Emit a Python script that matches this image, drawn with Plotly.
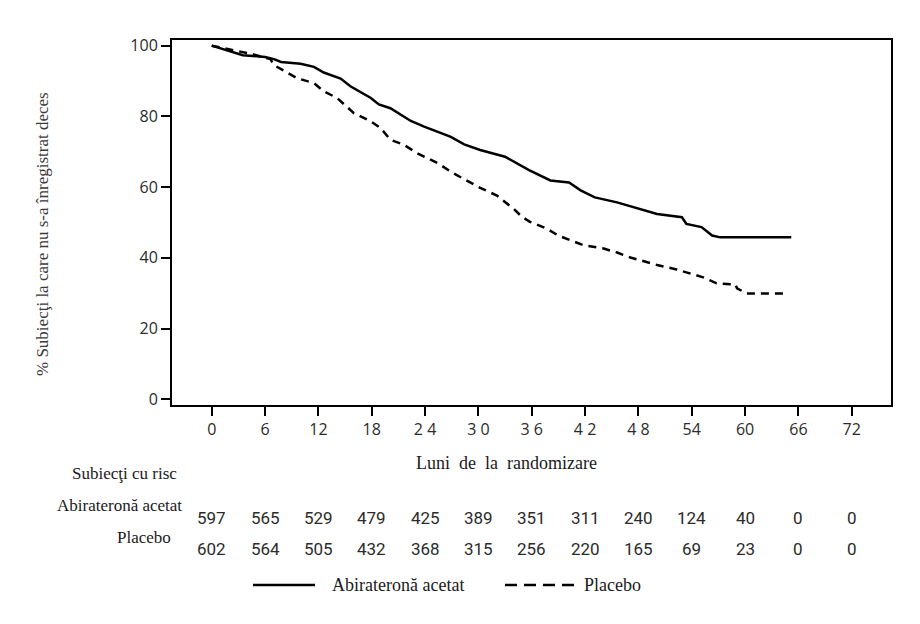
import plotly.graph_objects as go

# ---- data ----
abi_t = [0, 1.5, 3.5, 6, 7, 7.8, 10, 11.5, 12.6, 14.5, 15.6, 17.9, 18.8, 20.1, 22.4, 23.9,
         26.9, 28.4, 30.2, 33, 35.1, 35.7, 38.1, 40.2, 41.5, 43.1, 45.6, 47.4, 50.1, 52.9,
         53.4, 55.1, 56.3, 57.2, 65.2]
abi_v = [100, 98.8, 97.3, 96.8, 96.2, 95.4, 94.9, 94.0, 92.4, 90.7, 88.5, 85.2, 83.4, 82.3,
         78.7, 77.1, 74.2, 72.1, 70.5, 68.6, 65.5, 64.8, 61.9, 61.3, 59.1, 57.1, 55.7, 54.3,
         52.4, 51.5, 49.6, 48.7, 46.3, 45.8, 45.8]
pla_t = [0, 2.3, 4.4, 6.6, 7, 9.6, 11.5, 12.6, 14.1, 16, 17.9, 19, 20.1, 21.6, 23.1, 25.4,
         27.2, 30.2, 32.1, 34, 34.9, 35.8, 37.6, 39, 41.8, 44, 45.6, 47.1, 50.1, 52.3, 53.8,
         55.3, 56.8, 58.9, 59.1, 60.2, 64.5]
pla_v = [100, 98.7, 97.7, 96.2, 94.5, 90.8, 89.4, 87.1, 85.2, 80.9, 78.6, 76.7, 73.4, 72.0,
         69.6, 66.8, 63.9, 59.8, 57.6, 53.8, 51.6, 50.2, 48.4, 46.3, 43.6, 42.7, 41.5, 40.1,
         38.0, 36.7, 35.6, 34.5, 32.8, 32.5, 31.4, 29.9, 29.9]

x_ticks = [0, 6, 12, 18, 24, 30, 36, 42, 48, 54, 60, 66, 72]
x_ticktext = ["0", "6", "12", "18", "2 4", "3 0", "3 6", "4 2", "4 8", "54", "60", "66", "72"]
y_ticks = [0, 20, 40, 60, 80, 100]

risk_abi = [597, 565, 529, 479, 425, 389, 351, 311, 240, 124, 40, 0, 0]
risk_pla = [602, 564, 505, 432, 368, 315, 256, 220, 165, 69, 23, 0, 0]

series_names = ["Abirateronă acetat", "Placebo"]

# ---- layout geometry (pixels) ----
W, H = 920, 624
L, R, T, B = 172, 29, 40, 219
PW, PH = W - L - R, H - T - B


def px_x(px):
    return (px - L) / PW


def px_y(py):
    return (H - B - py) / PH


SERIF = "Liberation Serif, Times New Roman, serif"
SANS = "Open Sans, Arial, sans-serif"
NUMF = "Roboto, Open Sans, sans-serif"
TXT = "#2b2b2b"
DARK = "#1a1a1a"

fig = go.Figure()
fig.add_trace(go.Scatter(x=abi_t, y=abi_v, mode="lines", name=series_names[0],
                         line=dict(color="black", width=2.5), showlegend=False))
fig.add_trace(go.Scatter(x=pla_t, y=pla_v, mode="lines", name=series_names[1],
                         line=dict(color="black", width=2.5, dash="8px,6px"), showlegend=False))

ann = []
# y title
ann.append(dict(text="% Subiecţi la care nu s-a înregistrat deces", xref="paper", yref="paper",
                x=px_x(42), y=px_y(234), textangle=-90, showarrow=False,
                xanchor="center", yanchor="middle", font=dict(family=SERIF, size=17, color="#3a3a3a")))
# x title
ann.append(dict(text="Luni\u00a0\u00a0de\u00a0\u00a0la\u00a0\u00a0randomizare", xref="paper", yref="paper",
                x=px_x(506), y=px_y(463), showarrow=False, xanchor="center", yanchor="middle",
                font=dict(family=SERIF, size=18, color=DARK)))
# risk table
ann.append(dict(text="Subiecţi cu risc", xref="paper", yref="paper", x=px_x(124), y=px_y(473),
                showarrow=False, xanchor="center", yanchor="middle",
                font=dict(family=SERIF, size=17, color=DARK)))
ann.append(dict(text=series_names[0], xref="paper", yref="paper", x=px_x(184), y=px_y(506),
                showarrow=False, xanchor="right", yanchor="middle",
                font=dict(family=SERIF, size=17, color=DARK)))
ann.append(dict(text=series_names[1], xref="paper", yref="paper", x=px_x(173), y=px_y(537),
                showarrow=False, xanchor="right", yanchor="middle",
                font=dict(family=SERIF, size=17, color=DARK)))
for xv, a, p in zip(x_ticks, risk_abi, risk_pla):
    ann.append(dict(text=str(a), xref="x", yref="paper", x=xv, y=px_y(518), showarrow=False,
                    xanchor="center", yanchor="middle", font=dict(family=NUMF, size=17, color=TXT)))
    ann.append(dict(text=str(p), xref="x", yref="paper", x=xv, y=px_y(549), showarrow=False,
                    xanchor="center", yanchor="middle", font=dict(family=NUMF, size=17, color=TXT)))
# legend texts
ann.append(dict(text=series_names[0], xref="paper", yref="paper", x=px_x(330), y=px_y(585),
                showarrow=False, xanchor="left", yanchor="middle",
                font=dict(family=SERIF, size=18, color=DARK)))
ann.append(dict(text=series_names[1], xref="paper", yref="paper", x=px_x(582), y=px_y(585),
                showarrow=False, xanchor="left", yanchor="middle",
                font=dict(family=SERIF, size=18, color=DARK)))

shapes = [
    dict(type="line", xref="paper", yref="paper", x0=px_x(253), x1=px_x(315),
         y0=px_y(585), y1=px_y(585), line=dict(color="black", width=2.5)),
    dict(type="line", xref="paper", yref="paper", x0=px_x(505), x1=px_x(575),
         y0=px_y(585), y1=px_y(585), line=dict(color="black", width=2.5, dash="12px,7px")),
]

fig.update_layout(
    width=W, height=H,
    margin=dict(l=L, r=R, t=T, b=B, pad=0),
    paper_bgcolor="white", plot_bgcolor="white",
    annotations=ann, shapes=shapes, showlegend=False,
    xaxis=dict(range=[-4.47, 76.42], tickmode="array", tickvals=x_ticks, ticktext=x_ticktext,
               ticks="outside", ticklen=9, tickwidth=2, tickcolor="black",
               showline=True, linecolor="black", linewidth=2, mirror=True,
               showgrid=False, zeroline=False,
               tickfont=dict(family=SANS, size=16, color=TXT)),
    yaxis=dict(range=[-1.6, 101.6], tickmode="array", tickvals=y_ticks,
               ticks="outside", ticklen=9, tickwidth=2, tickcolor="black",
               showline=True, linecolor="black", linewidth=2, mirror=True,
               showgrid=False, zeroline=False,
               tickfont=dict(family=SANS, size=16, color=TXT)),
)

fig.write_html("out.html")
